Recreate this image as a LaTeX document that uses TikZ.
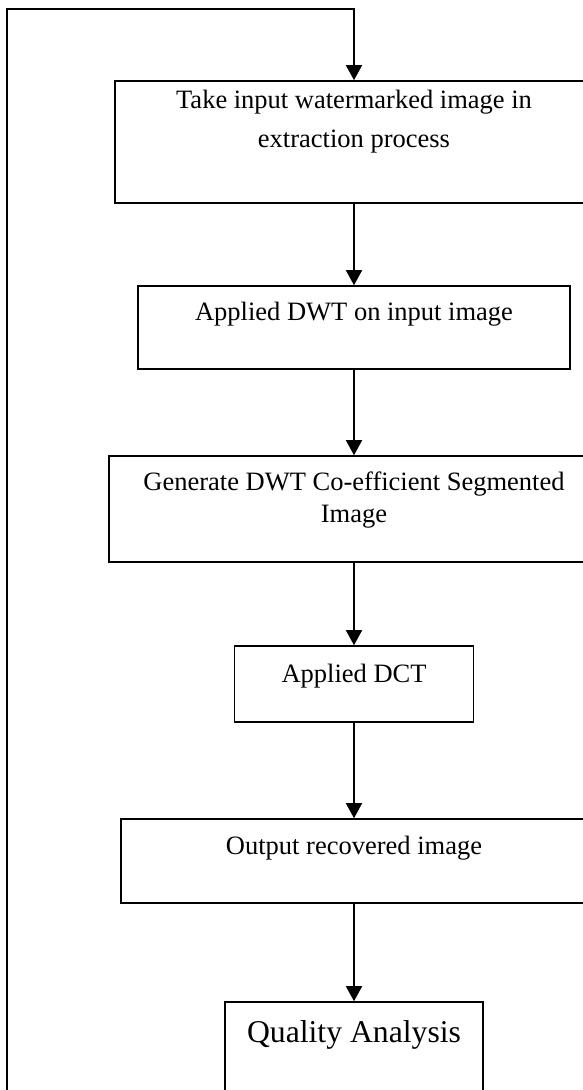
\documentclass[tikz,border=0pt]{standalone}
\usepackage{fontspec}
\setmainfont{Liberation Serif}
\usetikzlibrary{arrows.meta,positioning}

\tikzset{
  stage/.style={draw, line width=1.6pt, rectangle, inner sep=0pt},
  caption/.style={inner sep=0pt, align=center, anchor=base, font=\fontsize{26.5}{32}\selectfont},
  flow/.style={line width=1.6pt, -{Triangle[length=15pt,width=16pt]}}
}

\begin{document}
\begin{tikzpicture}[x=1pt,y=1pt,yscale=-1,xscale=1]
\useasboundingbox (0,0) rectangle (582,1090);

% process boxes
\node[stage, minimum width=478pt, minimum height=122pt] (take) at (354,142) {};
\node[stage, minimum width=432pt, minimum height=83pt] (dwt) at (354,327.5) {};
\node[stage, minimum width=490pt, minimum height=106pt] (coef) at (354,509) {};
\node[stage, minimum width=239pt, minimum height=76pt] (dct) at (354,684) {};
\node[stage, minimum width=466pt, minimum height=84pt] (out) at (354,861) {};
\node[stage, minimum width=258pt, minimum height=110pt] (qa) at (354,1057) {};

% box texts (base = last line)
\node[caption, font=\fontsize{26.5}{39}\selectfont] (takeT) at (354,147) {Take input watermarked image in\\extraction process};
\node[caption] (dwtT) at (354,320) {Applied DWT on input image};
\node[caption] (coefT) at (354,522) {Generate DWT Co-efficient Segmented\\Image};
\node[caption] (dctT) at (354,682) {Applied DCT};
\node[caption] (outT) at (354,854) {Output recovered image};
\node[caption, font=\fontsize{31.7}{38}\selectfont] (qaT) at (354,1042) {Quality Analysis};

% feedback line
\coordinate (loopstart) at (7,1095);
\coordinate (loopturn) at (7,9);
\draw[flow] (loopstart) -- (loopturn) -| (take.north);

% main flow
\draw[flow] (take) -- (dwt);
\draw[flow] (dwt) -- (coef);
\draw[flow] (coef) -- (dct);
\draw[flow] (dct) -- (out);
\draw[flow] (out) -- (qa);

\end{tikzpicture}
\end{document}
